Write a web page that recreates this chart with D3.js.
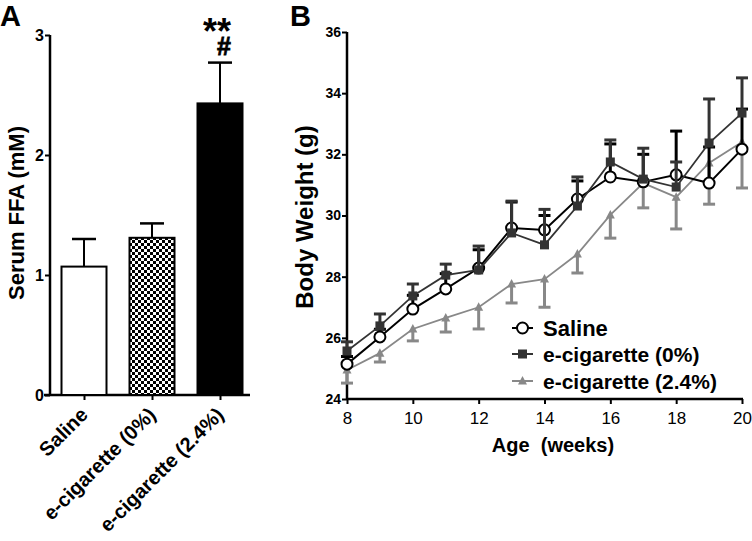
<!DOCTYPE html>
<html><head><meta charset="utf-8">
<script src="https://cdn.jsdelivr.net/npm/d3@7"></script>
<style>body{margin:0;background:#fff}svg{display:block}text{font-family:"Liberation Sans",Arial,sans-serif}</style>
</head><body>
<svg id="c" width="752" height="541"></svg>
<script>
// ---- Panel A data ----
const groupsA = ["Saline", "e-cigarette (0%)", "e-cigarette (2.4%)"];
const ffaMean = [1.07, 1.31, 2.43];
const ffaErr  = [0.23, 0.12, 0.34];
const ticksA  = [0, 1, 2, 3];

// ---- Panel B data ----
const weeks = [8, 9, 10, 11, 12, 13, 14, 15, 16, 17, 18, 19, 20];
const salineBW  = [25.14, 26.03, 26.94, 27.60, 28.28, 29.59, 29.53, 30.54, 31.26, 31.10, 31.33, 31.06, 32.17];
const salineErr = [0.25, 0.25, 0.45, 0.50, 0.60, 0.85, 0.47, 0.59, 1.08, 0.90, 1.43, 1.18, 1.31];
const ecig0BW   = [25.57, 26.39, 27.37, 28.05, 28.22, 29.43, 29.04, 30.31, 31.75, 31.19, 30.93, 32.37, 33.35];
const ecig0Err  = [0.30, 0.39, 0.39, 0.36, 0.78, 1.04, 1.16, 0.95, 0.72, 1.01, 0.82, 1.44, 1.15];
const ecig24BW  = [24.95, 25.50, 26.29, 26.65, 27.00, 27.76, 27.92, 28.74, 30.02, 31.06, 30.60, 31.72, 32.40];
const ecig24Err = [0.43, 0.29, 0.39, 0.46, 0.71, 0.62, 0.92, 0.62, 0.76, 0.81, 1.04, 1.35, 1.50];
const ticksBx = [8, 10, 12, 14, 16, 18, 20];
const ticksBy = [24, 26, 28, 30, 32, 34, 36];
const legendLabels = ["Saline", "e-cigarette (0%)", "e-cigarette (2.4%)"];

const svg = d3.select("#c");
const FONT = '"Liberation Sans",Arial,sans-serif';

// pattern
const defs = svg.append("defs");
const pat = defs.append("pattern").attr("id","checker").attr("width",6).attr("height",6).attr("patternUnits","userSpaceOnUse");
pat.append("rect").attr("width",6).attr("height",6).attr("fill","#fff");
pat.append("rect").attr("width",3).attr("height",3).attr("fill","#000");
pat.append("rect").attr("x",3).attr("y",3).attr("width",3).attr("height",3).attr("fill","#000");

// ================= Panel A =================
const yA = d3.scaleLinear().domain([0,3]).range([395,35]);
const xA = d3.scalePoint().domain(groupsA).range([50,254]).padding(0.5);
const barW = 45;
const gA = svg.append("g");

gA.append("text").attr("x",0).attr("y",26).attr("font-size",29).attr("font-weight","bold").text("A");

const yAxisA = gA.append("g").attr("transform","translate(50,0)")
  .call(d3.axisLeft(yA).tickValues(ticksA).tickFormat(d3.format("d")).tickSize(5).tickPadding(1));
yAxisA.select(".domain").attr("stroke-width",2.5).attr("d","M0,35V395");
yAxisA.selectAll(".tick line").attr("stroke-width",2);
yAxisA.selectAll(".tick text").attr("font-size",16).attr("font-weight","bold").attr("font-family",FONT).attr("fill","#000");

const xAxisA = gA.append("g").attr("transform","translate(0,395)")
  .call(d3.axisBottom(xA).tickSize(5).tickFormat(""));
xAxisA.select(".domain").attr("stroke-width",2.5).attr("d","M44,0H250");
xAxisA.selectAll(".tick line").attr("stroke-width",2);

gA.selectAll("text.xl").data(groupsA).enter().append("text")
  .attr("class","xl")
  .attr("transform", d => `translate(${xA(d)+5},${416}) rotate(-45)`)
  .attr("text-anchor","end")
  .attr("font-size",20).attr("font-weight","bold").text(d => d);

gA.append("text").attr("transform","translate(24,213) rotate(-90)")
  .attr("text-anchor","middle").attr("font-size",22).attr("font-weight","bold").text("Serum FFA (mM)");

const fills = ["#fff","url(#checker)","#000"];
// error bars
gA.selectAll("line.eb").data(groupsA).enter().append("line")
  .attr("x1",d=>xA(d)).attr("x2",d=>xA(d))
  .attr("y1",(d,i)=>yA(ffaMean[i])).attr("y2",(d,i)=>yA(ffaMean[i]+ffaErr[i]))
  .attr("stroke","#000").attr("stroke-width",2);
gA.selectAll("line.cap").data(groupsA).enter().append("line")
  .attr("x1",d=>xA(d)-12).attr("x2",d=>xA(d)+12)
  .attr("y1",(d,i)=>yA(ffaMean[i]+ffaErr[i])).attr("y2",(d,i)=>yA(ffaMean[i]+ffaErr[i]))
  .attr("stroke","#000").attr("stroke-width",2.5);
gA.selectAll("rect.bar").data(groupsA).enter().append("rect")
  .attr("x",d=>xA(d)-barW/2).attr("width",barW)
  .attr("y",(d,i)=>yA(ffaMean[i])).attr("height",(d,i)=>yA(0)-yA(ffaMean[i]))
  .attr("fill",(d,i)=>fills[i]).attr("stroke","#000").attr("stroke-width",2);

// significance marks as one text with two lines
const sig = gA.append("text").attr("text-anchor","middle").attr("font-weight","bold");
sig.append("tspan").attr("x",xA(groupsA[2])-3).attr("y",44).attr("font-size",36).text("**");
sig.append("tspan").attr("x",xA(groupsA[2])+4).attr("y",55).attr("font-size",25)
  .attr("stroke","#000").attr("stroke-width",0.8).text("#");

// ================= Panel B =================
const xB = d3.scaleLinear().domain([8,20]).range([347,742]);
const yB = d3.scaleLinear().domain([24,36]).range([399,32]);
const gB = svg.append("g");

gB.append("text").attr("x",290).attr("y",26).attr("font-size",29).attr("font-weight","bold").text("B");

const yAxisB = gB.append("g").attr("transform","translate(347,0)")
  .call(d3.axisLeft(yB).tickValues(ticksBy).tickSize(5).tickPadding(1));
yAxisB.select(".domain").attr("stroke-width",2.5).attr("d","M0,32V399");
yAxisB.selectAll(".tick line").attr("stroke-width",2);
yAxisB.selectAll(".tick text").attr("font-size",14).attr("font-weight","bold").attr("font-family",FONT).attr("fill","#000");

const xAxisB = gB.append("g").attr("transform","translate(0,399)")
  .call(d3.axisBottom(xB).tickValues(ticksBx).tickSize(5).tickPadding(8));
xAxisB.select(".domain").attr("stroke-width",2.5).attr("d","M347,0H743");
xAxisB.selectAll(".tick line").attr("stroke-width",2);
xAxisB.selectAll(".tick text").attr("font-size",17).attr("font-family",FONT).attr("fill","#000");

gB.append("text").attr("x",553).attr("y",452).attr("text-anchor","middle")
  .attr("font-size",20).attr("font-weight","bold").attr("xml:space","preserve").text("Age  (weeks)");
gB.append("text").attr("transform","translate(313,217) rotate(-90)")
  .attr("text-anchor","middle").attr("font-size",24).attr("font-weight","bold").text("Body Weight (g)");

const line = d3.line().x((d)=>xB(d[0])).y(d=>yB(d[1]));
function series(vals, errs, color, lw, dir, marker, drawErrAfter){
  const pts = weeks.map((w,i)=>[w, vals[i], errs[i]]);
  const g = gB.append("g");
  g.append("path").datum(pts).attr("d",line).attr("fill","none").attr("stroke",color).attr("stroke-width",lw);
  const drawErr = () => {
    const e = g.append("g");
    e.selectAll("line.v").data(pts).enter().append("line")
      .attr("x1",d=>xB(d[0])).attr("x2",d=>xB(d[0]))
      .attr("y1",d=>yB(d[1])).attr("y2",d=>yB(d[1]+dir*d[2]))
      .attr("stroke",color).attr("stroke-width",3);
    e.selectAll("line.c").data(pts).enter().append("line")
      .attr("x1",d=>xB(d[0])-6).attr("x2",d=>xB(d[0])+6)
      .attr("y1",d=>yB(d[1]+dir*d[2])).attr("y2",d=>yB(d[1]+dir*d[2]))
      .attr("stroke",color).attr("stroke-width",3);
  };
  if(!drawErrAfter) drawErr();
  pts.forEach(d=>marker(g, xB(d[0]), yB(d[1])));
  if(drawErrAfter) drawErr();
}
const triM = (g,x,y)=>g.append("path").attr("d",`M${x},${y-5}L${x+4.5},${y+3.5}L${x-4.5},${y+3.5}Z`).attr("fill","#888");
const sqM  = (g,x,y)=>g.append("rect").attr("x",x-4.5).attr("y",y-4.5).attr("width",9).attr("height",9).attr("fill","#333");
const ciM  = (g,x,y)=>g.append("circle").attr("cx",x).attr("cy",y).attr("r",5.5).attr("fill","#fff").attr("stroke","#000").attr("stroke-width",2);

series(ecig24BW, ecig24Err, "#888", 1.8, -1, triM, false);
series(salineBW, salineErr, "#000", 2, 1, ciM, false);
series(ecig0BW, ecig0Err, "#333", 1.8, 1, sqM, true);

// legend
const legY = [328, 354, 381];
const legColors = ["#000","#333","#888"];
const legMarkers = [ciM, sqM, triM];
const legSizes = [22, 21, 21];
const lg = gB.append("g");
legendLabels.forEach((lab,i)=>{
  lg.append("line").attr("x1",512).attr("x2",533).attr("y1",legY[i]).attr("y2",legY[i])
    .attr("stroke",legColors[i]).attr("stroke-width",2);
  legMarkers[i](lg, 522.5, legY[i]);
  lg.append("text").attr("x",543).attr("y",legY[i]).attr("dy","0.36em")
    .attr("font-size",legSizes[i]).attr("font-weight","bold").text(lab);
});
</script>
</body></html>
